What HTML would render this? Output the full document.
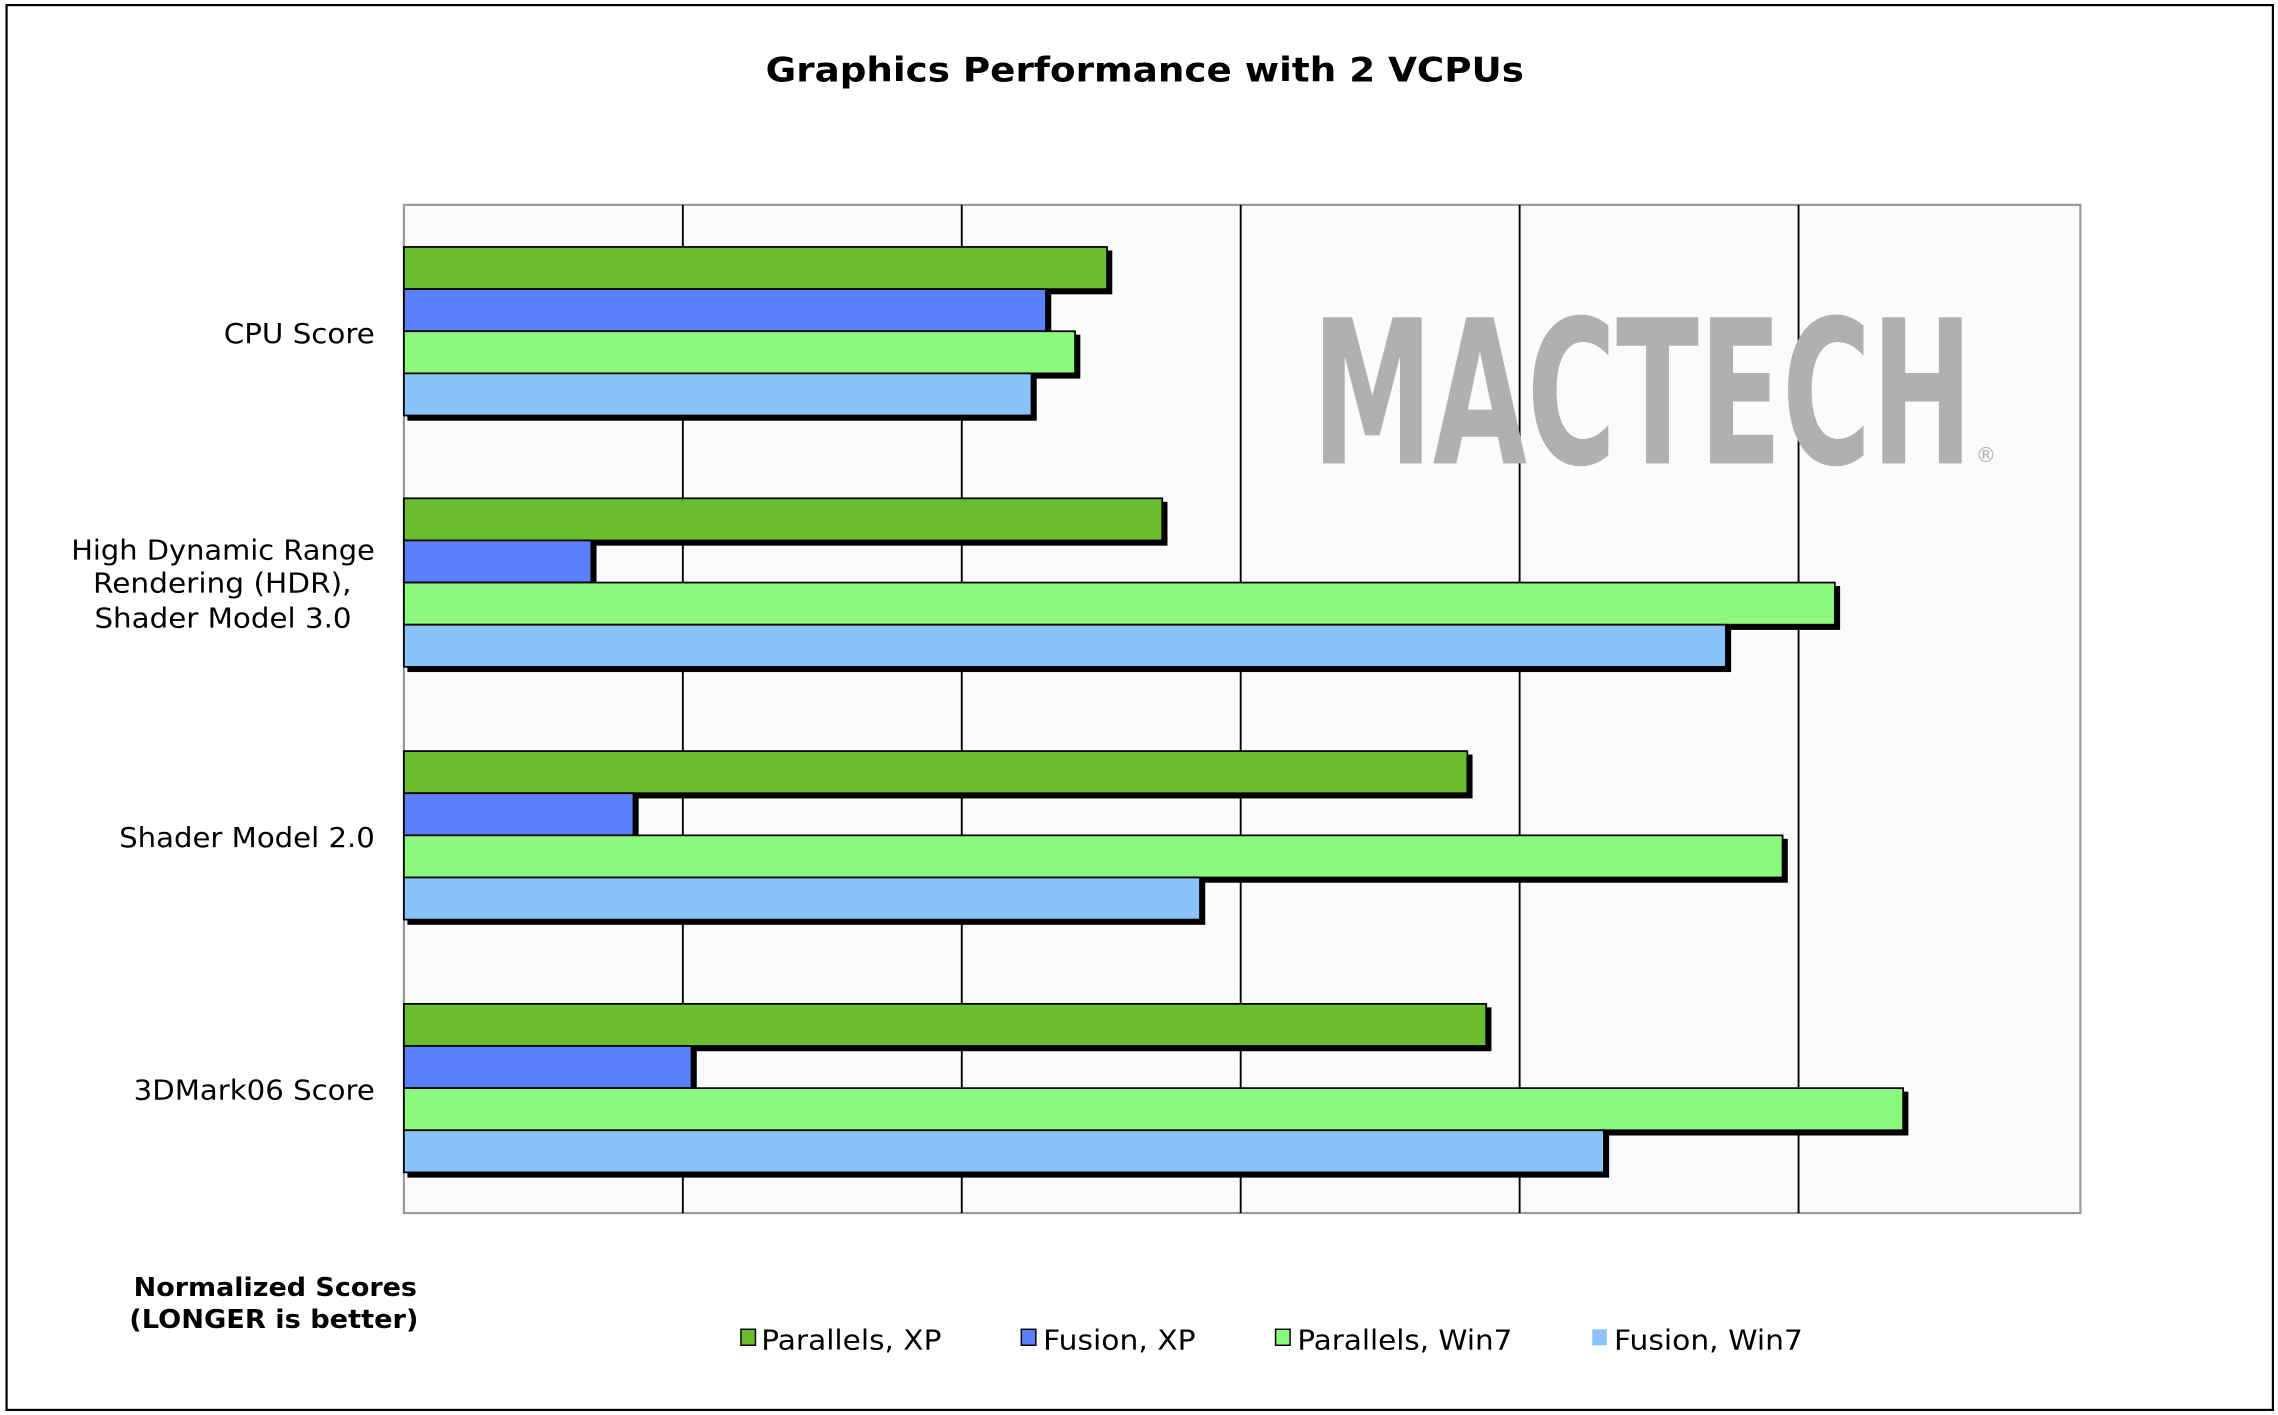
<!DOCTYPE html>
<html><head><meta charset="utf-8"><style>
html,body{margin:0;padding:0;background:#fff;}
svg{display:block;}
text{font-family:"DejaVu Sans","Liberation Sans",sans-serif;}
</style></head><body>
<svg width="2278" height="1415" viewBox="0 0 1568 974" xmlns="http://www.w3.org/2000/svg">
<rect x="0" y="0" width="1568" height="974" fill="#fff"/>
<rect x="4.5" y="3.5" width="1560" height="967" fill="none" stroke="#000" stroke-width="1.5"/>
<text x="527" y="56" font-size="23" font-weight="bold" textLength="522" lengthAdjust="spacingAndGlyphs">Graphics Performance with 2 VCPUs</text>
<rect x="278" y="141" width="1154" height="694" fill="#fbfbfb" stroke="#999" stroke-width="1.5"/>
<g stroke="#000" stroke-width="1.3">
<line x1="470" y1="141" x2="470" y2="835"/><line x1="662" y1="141" x2="662" y2="835"/>
<line x1="854" y1="141" x2="854" y2="835"/><line x1="1046" y1="141" x2="1046" y2="835"/>
<line x1="1238" y1="141" x2="1238" y2="835"/>
</g>
<g fill="#b0b0b0">
<text x="903" y="319" font-size="138" font-weight="bold" textLength="455" lengthAdjust="spacingAndGlyphs" style="font-family:'DejaVu Sans Condensed','DejaVu Sans',sans-serif">MACTECH</text>
<text x="1360" y="318" font-size="14">®</text>
</g>
<g stroke="#000" stroke-width="1.2">
<rect x="281" y="173" width="484" height="29" fill="#000"/><rect x="278" y="170" width="484" height="29" fill="#69bd2f"/>
<rect x="281" y="202" width="442" height="29" fill="#000"/><rect x="278" y="199" width="442" height="29" fill="#5b80fc"/>
<rect x="281" y="231" width="462" height="29" fill="#000"/><rect x="278" y="228" width="462" height="29" fill="#8cf97e"/>
<rect x="281" y="260" width="432" height="29" fill="#000"/><rect x="278" y="257" width="432" height="29" fill="#8ac2fb"/>
<rect x="281" y="346" width="522" height="29" fill="#000"/><rect x="278" y="343" width="522" height="29" fill="#69bd2f"/>
<rect x="281" y="375" width="129" height="29" fill="#000"/><rect x="278" y="372" width="129" height="29" fill="#5b80fc"/>
<rect x="281" y="404" width="985" height="29" fill="#000"/><rect x="278" y="401" width="985" height="29" fill="#8cf97e"/>
<rect x="281" y="433" width="910" height="29" fill="#000"/><rect x="278" y="430" width="910" height="29" fill="#8ac2fb"/>
<rect x="281" y="520" width="732" height="29" fill="#000"/><rect x="278" y="517" width="732" height="29" fill="#69bd2f"/>
<rect x="281" y="549" width="158" height="29" fill="#000"/><rect x="278" y="546" width="158" height="29" fill="#5b80fc"/>
<rect x="281" y="578" width="949" height="29" fill="#000"/><rect x="278" y="575" width="949" height="29" fill="#8cf97e"/>
<rect x="281" y="607" width="548" height="29" fill="#000"/><rect x="278" y="604" width="548" height="29" fill="#8ac2fb"/>
<rect x="281" y="694" width="745" height="29" fill="#000"/><rect x="278" y="691" width="745" height="29" fill="#69bd2f"/>
<rect x="281" y="723" width="198" height="29" fill="#000"/><rect x="278" y="720" width="198" height="29" fill="#5b80fc"/>
<rect x="281" y="752" width="1032" height="29" fill="#000"/><rect x="278" y="749" width="1032" height="29" fill="#8cf97e"/>
<rect x="281" y="781" width="826" height="29" fill="#000"/><rect x="278" y="778" width="826" height="29" fill="#8ac2fb"/>
</g>
<g font-size="19" lengthAdjust="spacingAndGlyphs">
<text x="154" y="236" textLength="104" lengthAdjust="spacingAndGlyphs">CPU Score</text>
<text x="49" y="385" textLength="209" lengthAdjust="spacingAndGlyphs">High Dynamic Range</text>
<text x="64" y="408" textLength="178" lengthAdjust="spacingAndGlyphs">Rendering (HDR),</text>
<text x="65" y="432" textLength="177" lengthAdjust="spacingAndGlyphs">Shader Model 3.0</text>
<text x="82" y="583" textLength="176" lengthAdjust="spacingAndGlyphs">Shader Model 2.0</text>
<text x="92" y="757" textLength="166" lengthAdjust="spacingAndGlyphs">3DMark06 Score</text>
</g>
<g font-size="17.5" font-weight="bold">
<text x="92" y="892" textLength="195" lengthAdjust="spacingAndGlyphs">Normalized Scores</text>
<text x="89" y="914" textLength="199" lengthAdjust="spacingAndGlyphs">(LONGER is better)</text>
</g>
<g font-size="19">
<rect x="510" y="915" width="10" height="11" fill="#69bd2f" stroke="#000" stroke-width="1"/><text x="524" y="929" textLength="124" lengthAdjust="spacingAndGlyphs">Parallels, XP</text>
<rect x="703" y="915" width="10" height="11" fill="#5b80fc" stroke="#000" stroke-width="1"/><text x="718" y="929" textLength="105" lengthAdjust="spacingAndGlyphs">Fusion, XP</text>
<rect x="878" y="915" width="10" height="11" fill="#8cf97e" stroke="#000" stroke-width="1"/><text x="893" y="929" textLength="148" lengthAdjust="spacingAndGlyphs">Parallels, Win7</text>
<rect x="1096" y="915" width="10" height="11" fill="#8ac2fb"/><text x="1111" y="929" textLength="130" lengthAdjust="spacingAndGlyphs">Fusion, Win7</text>
</g>
</svg>
</body></html>
